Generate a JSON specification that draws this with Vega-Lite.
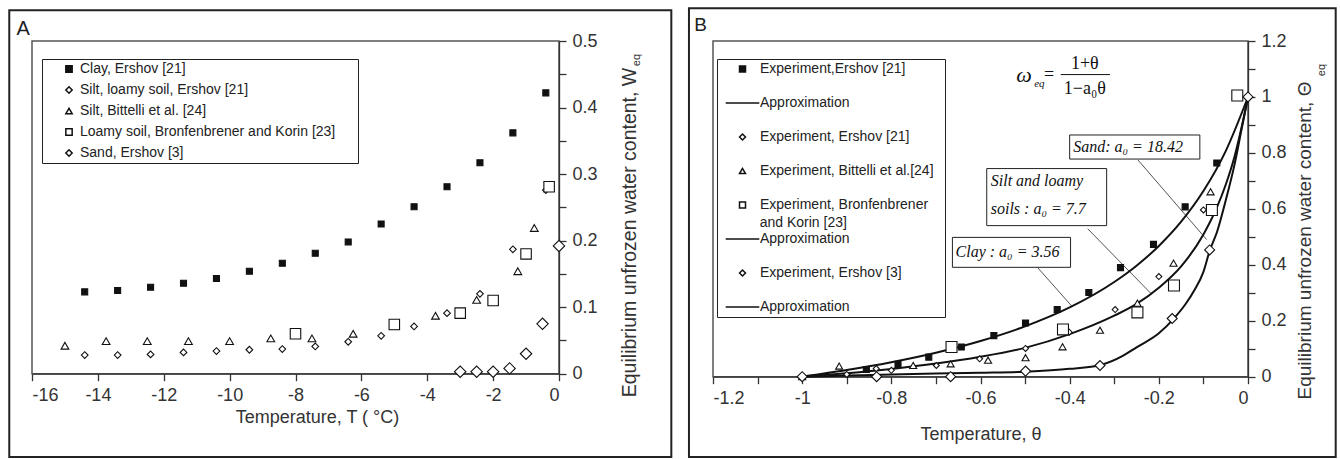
{
  "$schema": "https://vega.github.io/schema/vega-lite/v6.json",
  "padding": {"left": 7, "top": 6, "right": 0, "bottom": 0},
  "spacing": 13,
  "background": "white",
  "resolve": {"scale": {"shape": "independent", "fill": "independent", "size": "independent", "stroke": "independent"}, "legend": {"shape": "independent", "fill": "independent", "size": "independent", "stroke": "independent"}},
  "config": {
    "font": "Liberation Sans",
    "view": {"stroke": "#555", "strokeWidth": 1.5},
    "axis": {"labelFontSize": 18, "titleFontSize": 18, "labelColor": "#333", "titleColor": "#333", "titleFontWeight": "normal", "domainColor": "#333", "tickColor": "#333", "grid": false, "tickSize": 7, "labelPadding": 6, "domainWidth": 1.3, "tickWidth": 1.3, "labelFont": "Liberation Sans", "titleFont": "Liberation Sans"},
    "legend": {"labelFont": "Liberation Sans", "labelFontSize": 14, "labelColor": "#222", "symbolStrokeColor": "#111", "symbolStrokeWidth": 1.5, "strokeColor": "#222", "labelLimit": 400}
  },
  "datasets": {
    "aFrame": [{"x": -16.69, "x2": 3.41, "y": -0.1252, "y2": 0.5461}],
    "aLabel": [{"x": -16.27, "y": 0.509, "text": "A"}],
    "aSub": [{"x": 2.38, "y": 0.4714, "text": "eq"}],
    "aPts": [
      {"k": "Clay, Ershov [21]", "x": -14.4, "y": 0.123},
      {"k": "Clay, Ershov [21]", "x": -13.4, "y": 0.125},
      {"k": "Clay, Ershov [21]", "x": -12.4, "y": 0.130},
      {"k": "Clay, Ershov [21]", "x": -11.4, "y": 0.136},
      {"k": "Clay, Ershov [21]", "x": -10.4, "y": 0.143},
      {"k": "Clay, Ershov [21]", "x": -9.4, "y": 0.154},
      {"k": "Clay, Ershov [21]", "x": -8.4, "y": 0.166},
      {"k": "Clay, Ershov [21]", "x": -7.4, "y": 0.181},
      {"k": "Clay, Ershov [21]", "x": -6.4, "y": 0.198},
      {"k": "Clay, Ershov [21]", "x": -5.4, "y": 0.225},
      {"k": "Clay, Ershov [21]", "x": -4.4, "y": 0.251},
      {"k": "Clay, Ershov [21]", "x": -3.4, "y": 0.281},
      {"k": "Clay, Ershov [21]", "x": -2.4, "y": 0.317},
      {"k": "Clay, Ershov [21]", "x": -1.4, "y": 0.362},
      {"k": "Clay, Ershov [21]", "x": -0.4, "y": 0.422},
      {"k": "Silt, loamy soil, Ershov [21]", "x": -14.4, "y": 0.028},
      {"k": "Silt, loamy soil, Ershov [21]", "x": -13.4, "y": 0.028},
      {"k": "Silt, loamy soil, Ershov [21]", "x": -12.4, "y": 0.029},
      {"k": "Silt, loamy soil, Ershov [21]", "x": -11.4, "y": 0.032},
      {"k": "Silt, loamy soil, Ershov [21]", "x": -10.4, "y": 0.034},
      {"k": "Silt, loamy soil, Ershov [21]", "x": -9.4, "y": 0.036},
      {"k": "Silt, loamy soil, Ershov [21]", "x": -8.4, "y": 0.037},
      {"k": "Silt, loamy soil, Ershov [21]", "x": -7.4, "y": 0.041},
      {"k": "Silt, loamy soil, Ershov [21]", "x": -6.4, "y": 0.048},
      {"k": "Silt, loamy soil, Ershov [21]", "x": -5.4, "y": 0.057},
      {"k": "Silt, loamy soil, Ershov [21]", "x": -4.4, "y": 0.071},
      {"k": "Silt, loamy soil, Ershov [21]", "x": -3.4, "y": 0.091},
      {"k": "Silt, loamy soil, Ershov [21]", "x": -2.4, "y": 0.120},
      {"k": "Silt, loamy soil, Ershov [21]", "x": -1.4, "y": 0.187},
      {"k": "Silt, loamy soil, Ershov [21]", "x": -0.4, "y": 0.276},
      {"k": "Silt, Bittelli et al. [24]", "x": -15.0, "y": 0.042},
      {"k": "Silt, Bittelli et al. [24]", "x": -13.75, "y": 0.049},
      {"k": "Silt, Bittelli et al. [24]", "x": -12.5, "y": 0.049},
      {"k": "Silt, Bittelli et al. [24]", "x": -11.25, "y": 0.049},
      {"k": "Silt, Bittelli et al. [24]", "x": -10.0, "y": 0.049},
      {"k": "Silt, Bittelli et al. [24]", "x": -8.75, "y": 0.053},
      {"k": "Silt, Bittelli et al. [24]", "x": -7.5, "y": 0.053},
      {"k": "Silt, Bittelli et al. [24]", "x": -6.25, "y": 0.060},
      {"k": "Silt, Bittelli et al. [24]", "x": -5.0, "y": 0.072},
      {"k": "Silt, Bittelli et al. [24]", "x": -3.75, "y": 0.087},
      {"k": "Silt, Bittelli et al. [24]", "x": -2.5, "y": 0.111},
      {"k": "Silt, Bittelli et al. [24]", "x": -1.25, "y": 0.154},
      {"k": "Silt, Bittelli et al. [24]", "x": -0.75, "y": 0.219},
      {"k": "Loamy soil, Bronfenbrener and Korin [23]", "x": -8.0, "y": 0.060},
      {"k": "Loamy soil, Bronfenbrener and Korin [23]", "x": -5.0, "y": 0.074},
      {"k": "Loamy soil, Bronfenbrener and Korin [23]", "x": -3.0, "y": 0.091},
      {"k": "Loamy soil, Bronfenbrener and Korin [23]", "x": -2.0, "y": 0.110},
      {"k": "Loamy soil, Bronfenbrener and Korin [23]", "x": -1.0, "y": 0.180},
      {"k": "Loamy soil, Bronfenbrener and Korin [23]", "x": -0.3, "y": 0.281},
      {"k": "Sand, Ershov [3]", "x": -3.0, "y": 0.003},
      {"k": "Sand, Ershov [3]", "x": -2.5, "y": 0.003},
      {"k": "Sand, Ershov [3]", "x": -2.0, "y": 0.003},
      {"k": "Sand, Ershov [3]", "x": -1.5, "y": 0.008},
      {"k": "Sand, Ershov [3]", "x": -1.0, "y": 0.030},
      {"k": "Sand, Ershov [3]", "x": -0.5, "y": 0.075},
      {"k": "Sand, Ershov [3]", "x": 0.0, "y": 0.192}
    ],
    "bFrame": [{"x": -1.2539, "x2": 0.1967, "y": -0.287, "y2": 1.3169}],
    "bLabel": [{"x": -1.2277, "y": 1.2357, "text": "B"}],
    "bSub": [{"x": 0.165, "y": 1.096, "text": "eq"}],
    "bLegendLine2": [{"x": -1.0953, "y": 0.549, "text": "and  Korin [23]"}],
    "bPts": [
      {"k": "1", "x": -0.856, "y": 0.026},
      {"k": "1", "x": -0.785, "y": 0.044},
      {"k": "1", "x": -0.716, "y": 0.070},
      {"k": "1", "x": -0.643, "y": 0.106},
      {"k": "1", "x": -0.570, "y": 0.147},
      {"k": "1", "x": -0.499, "y": 0.192},
      {"k": "1", "x": -0.428, "y": 0.240},
      {"k": "1", "x": -0.357, "y": 0.301},
      {"k": "1", "x": -0.286, "y": 0.390},
      {"k": "1", "x": -0.212, "y": 0.473},
      {"k": "1", "x": -0.141, "y": 0.607},
      {"k": "1", "x": -0.070, "y": 0.764},
      {"k": "3", "x": -1.0, "y": 0.0},
      {"k": "3", "x": -0.90, "y": 0.008},
      {"k": "3", "x": -0.834, "y": 0.029},
      {"k": "3", "x": -0.80, "y": 0.023},
      {"k": "3", "x": -0.699, "y": 0.040},
      {"k": "3", "x": -0.602, "y": 0.064},
      {"k": "3", "x": -0.499, "y": 0.101},
      {"k": "3", "x": -0.401, "y": 0.159},
      {"k": "3", "x": -0.298, "y": 0.240},
      {"k": "3", "x": -0.200, "y": 0.358},
      {"k": "3", "x": -0.100, "y": 0.596},
      {"k": "3", "x": 0.0, "y": 1.0},
      {"k": "4", "x": -1.0, "y": 0.0},
      {"k": "4", "x": -0.917, "y": 0.038},
      {"k": "4", "x": -0.751, "y": 0.040},
      {"k": "4", "x": -0.667, "y": 0.046},
      {"k": "4", "x": -0.583, "y": 0.059},
      {"k": "4", "x": -0.499, "y": 0.068},
      {"k": "4", "x": -0.416, "y": 0.107},
      {"k": "4", "x": -0.332, "y": 0.166},
      {"k": "4", "x": -0.248, "y": 0.263},
      {"k": "4", "x": -0.167, "y": 0.406},
      {"k": "4", "x": -0.084, "y": 0.661},
      {"k": "5", "x": -0.665, "y": 0.106},
      {"k": "5", "x": -0.415, "y": 0.169},
      {"k": "5", "x": -0.248, "y": 0.230},
      {"k": "5", "x": -0.166, "y": 0.326},
      {"k": "5", "x": -0.081, "y": 0.596},
      {"k": "5", "x": -0.024, "y": 1.005},
      {"k": "7", "x": -1.0, "y": 0.0},
      {"k": "7", "x": -0.833, "y": 0.0},
      {"k": "7", "x": -0.667, "y": 0.0},
      {"k": "7", "x": -0.499, "y": 0.020},
      {"k": "7", "x": -0.332, "y": 0.040},
      {"k": "7", "x": -0.170, "y": 0.208},
      {"k": "7", "x": -0.086, "y": 0.453},
      {"k": "7", "x": 0.0, "y": 1.0}
    ],
    "bCurves": [
      {"c": "clay", "x": -1.0, "y": 0.0},
      {"c": "clay", "x": -0.9, "y": 0.0238},
      {"c": "clay", "x": -0.8, "y": 0.052},
      {"c": "clay", "x": -0.7, "y": 0.0859},
      {"c": "clay", "x": -0.6, "y": 0.1276},
      {"c": "clay", "x": -0.5, "y": 0.1799},
      {"c": "clay", "x": -0.4, "y": 0.2475},
      {"c": "clay", "x": -0.3, "y": 0.3385},
      {"c": "clay", "x": -0.25, "y": 0.3968},
      {"c": "clay", "x": -0.2, "y": 0.4673},
      {"c": "clay", "x": -0.15, "y": 0.5541},
      {"c": "clay", "x": -0.1, "y": 0.6637},
      {"c": "clay", "x": -0.05, "y": 0.8065},
      {"c": "clay", "x": 0.0, "y": 1.0},
      {"c": "silt", "x": -1.0, "y": 0.0},
      {"c": "silt", "x": -0.9, "y": 0.0126},
      {"c": "silt", "x": -0.8, "y": 0.0279},
      {"c": "silt", "x": -0.7, "y": 0.0469},
      {"c": "silt", "x": -0.6, "y": 0.0712},
      {"c": "silt", "x": -0.5, "y": 0.1031},
      {"c": "silt", "x": -0.4, "y": 0.152},
      {"c": "silt", "x": -0.3, "y": 0.218},
      {"c": "silt", "x": -0.25, "y": 0.26},
      {"c": "silt", "x": -0.2, "y": 0.318},
      {"c": "silt", "x": -0.15, "y": 0.3944},
      {"c": "silt", "x": -0.1, "y": 0.5085},
      {"c": "silt", "x": -0.07, "y": 0.604},
      {"c": "silt", "x": -0.05, "y": 0.686},
      {"c": "silt", "x": -0.03, "y": 0.788},
      {"c": "silt", "x": -0.015, "y": 0.887},
      {"c": "silt", "x": 0.0, "y": 1.0},
      {"c": "sand", "x": -1.0, "y": 0.0},
      {"c": "sand", "x": -0.9, "y": 0.004},
      {"c": "sand", "x": -0.8, "y": 0.008},
      {"c": "sand", "x": -0.7, "y": 0.011},
      {"c": "sand", "x": -0.6, "y": 0.014},
      {"c": "sand", "x": -0.5, "y": 0.018},
      {"c": "sand", "x": -0.4, "y": 0.028},
      {"c": "sand", "x": -0.33, "y": 0.042},
      {"c": "sand", "x": -0.28, "y": 0.075},
      {"c": "sand", "x": -0.25, "y": 0.105},
      {"c": "sand", "x": -0.2, "y": 0.155},
      {"c": "sand", "x": -0.167, "y": 0.207},
      {"c": "sand", "x": -0.14, "y": 0.26},
      {"c": "sand", "x": -0.12, "y": 0.31},
      {"c": "sand", "x": -0.1, "y": 0.375},
      {"c": "sand", "x": -0.086, "y": 0.45},
      {"c": "sand", "x": -0.069, "y": 0.52},
      {"c": "sand", "x": -0.05, "y": 0.63},
      {"c": "sand", "x": -0.03, "y": 0.76},
      {"c": "sand", "x": -0.015, "y": 0.88},
      {"c": "sand", "x": 0.0, "y": 1.0}
    ],
    "bBoxes": [
      {"x": -0.400, "x2": -0.108, "y": 0.778, "y2": 0.864},
      {"x": -0.586, "x2": -0.317, "y": 0.540, "y2": 0.744},
      {"x": -0.663, "x2": -0.398, "y": 0.391, "y2": 0.498}
    ],
    "bBoxText": [
      {"x": -0.392, "y": 0.821, "text": "Sand: a₀ = 18.42"},
      {"x": -0.577, "y": 0.699, "text": "Silt and loamy"},
      {"x": -0.577, "y": 0.599, "text": "soils : a₀ = 7.7"},
      {"x": -0.656, "y": 0.445, "text": "Clay : a₀ = 3.56"}
    ],
    "bLeaders": [
      {"x": -0.247, "y": 0.775, "x2": -0.0926, "y2": 0.490},
      {"x": -0.3596, "y": 0.529, "x2": -0.218, "y2": 0.298},
      {"x": -0.4724, "y": 0.391, "x2": -0.394, "y2": 0.250}
    ],
    "bFracLine": [{"x": -0.420, "x2": -0.3096, "y": 1.080}],
    "bOmega": [{"x": -0.5025, "y": 1.078, "text": "ω"}],
    "bFormulaSub": [{"x": -0.468, "y": 1.046, "text": "eq"}],
    "bFormula": [
      {"x": -0.446, "y": 1.078, "text": "="},
      {"x": -0.366, "y": 1.117, "text": "1+θ"},
      {"x": -0.366, "y": 1.028, "text": "1−a₀θ"}
    ]
  },
  "hconcat": [
    {
      "width": 527,
      "height": 332.7,
      "encoding": {
        "x": {"field": "x", "type": "quantitative", "scale": {"domain": [-16, 0], "nice": false, "zero": false},
          "axis": {"values": [-16, -14, -12, -10, -8, -6, -4, -2, 0], "format": "d", "labelExpr": "replace(datum.label, '−', '-')", "title": "Temperature, T ( °C)", "titlePadding": 4, "titleX": 285}},
        "y": {"field": "y", "type": "quantitative", "scale": {"domain": [0, 0.5], "nice": false, "zero": false},
          "axis": {"orient": "right", "values": [0, 0.05, 0.1, 0.15, 0.2, 0.25, 0.3, 0.35, 0.4, 0.45, 0.5], "format": ".1~f", "labelExpr": "abs(datum.value*10 - round(datum.value*10)) < 0.01 ? datum.label : ''", "title": "Equilibrium unfrozen water content,  W", "titleFontSize": 19.5, "titleAngle": 270, "titleY": 191, "titlePadding": 42}}
      },
      "layer": [
        {"data": {"name": "aFrame"}, "mark": {"type": "rect", "filled": false, "stroke": "#222", "strokeWidth": 2}, "encoding": {"x2": {"field": "x2"}, "y2": {"field": "y2"}}},
        {"data": {"name": "aPts"}, "mark": {"type": "point", "filled": false, "strokeWidth": 1.1, "opacity": 1},
          "encoding": {
            "shape": {"field": "k", "type": "nominal", "scale": {"domain": ["Clay, Ershov [21]", "Silt, loamy soil, Ershov [21]", "Silt, Bittelli et al. [24]", "Loamy soil, Bronfenbrener and Korin [23]", "Sand, Ershov [3]"], "range": ["square", "diamond", "triangle-up", "square", "diamond"]},
              "legend": {"orient": "none", "legendX": 10, "legendY": 18, "title": "\u00a0", "titleOrient": "right", "titleFontSize": 1, "titlePadding": 20, "padding": 3, "symbolSize": 40, "symbolOffset": 17, "labelOffset": 4, "rowPadding": 7, "labelFontSize": 14}},
            "fill": {"field": "k", "type": "nominal", "scale": {"domain": ["Clay, Ershov [21]", "Silt, loamy soil, Ershov [21]", "Silt, Bittelli et al. [24]", "Loamy soil, Bronfenbrener and Korin [23]", "Sand, Ershov [3]"], "range": ["#111", "white", "white", "white", "white"]},
              "legend": {"orient": "none", "legendX": 10, "legendY": 18, "title": "\u00a0", "titleOrient": "right", "titleFontSize": 1, "titlePadding": 20, "padding": 3, "symbolSize": 40, "symbolOffset": 17, "labelOffset": 4, "rowPadding": 7, "labelFontSize": 14}},
            "stroke": {"field": "k", "type": "nominal", "scale": {"domain": ["Clay, Ershov [21]", "Silt, loamy soil, Ershov [21]", "Silt, Bittelli et al. [24]", "Loamy soil, Bronfenbrener and Korin [23]", "Sand, Ershov [3]"], "range": ["#111", "#111", "#111", "#111", "#111"]},
              "legend": {"orient": "none", "legendX": 10, "legendY": 18, "title": "\u00a0", "titleOrient": "right", "titleFontSize": 1, "titlePadding": 20, "padding": 3, "symbolSize": 40, "symbolOffset": 17, "labelOffset": 4, "rowPadding": 7, "labelFontSize": 14}},
            "size": {"field": "k", "type": "nominal", "scale": {"type": "ordinal", "domain": ["Sand, Ershov [3]", "Loamy soil, Bronfenbrener and Korin [23]", "Silt, Bittelli et al. [24]", "Silt, loamy soil, Ershov [21]", "Clay, Ershov [21]"], "range": [130, 110, 60, 45, 36]}, "legend": null}
          }},
        {"data": {"name": "aLabel"}, "mark": {"type": "text", "fontSize": 20, "align": "center", "baseline": "alphabetic", "color": "#222"}, "encoding": {"text": {"field": "text"}}},
        {"data": {"name": "aSub"}, "mark": {"type": "text", "fontSize": 11, "angle": 270, "align": "center", "baseline": "middle", "color": "#333"}, "encoding": {"text": {"field": "text"}}}
      ]
    },
    {
      "width": 535,
      "height": 335.7,
      "encoding": {
        "x": {"field": "x", "type": "quantitative", "scale": {"domain": [-1.2, 0], "nice": false, "zero": false},
          "axis": {"values": [-1.2, -1.1, -1.0, -0.9, -0.8, -0.7, -0.6, -0.5, -0.4, -0.3, -0.2, -0.1, 0], "format": ".1~f", "labelExpr": "round(datum.value*10) % 2 == 0 ? replace(datum.label, '−', '-') : ''", "title": "Temperature, θ", "titlePadding": 18}},
        "y": {"field": "y", "type": "quantitative", "scale": {"domain": [0, 1.2], "nice": false, "zero": false},
          "axis": {"orient": "right", "values": [0, 0.1, 0.2, 0.3, 0.4, 0.5, 0.6, 0.7, 0.8, 0.9, 1.0, 1.1, 1.2], "format": ".1~f", "labelExpr": "round(datum.value*10) % 2 == 0 ? datum.label : ''", "title": "Equilibrium unfrozen water content,  Θ", "titleFontSize": 19, "titleAngle": 270, "titleY": 199, "titlePadding": 28}}
      },
      "layer": [
        {"data": {"name": "bFrame"}, "mark": {"type": "rect", "filled": false, "stroke": "#222", "strokeWidth": 2}, "encoding": {"x2": {"field": "x2"}, "y2": {"field": "y2"}}},
        {"data": {"name": "bLeaders"}, "mark": {"type": "rule", "stroke": "#555", "strokeWidth": 1}, "encoding": {"x2": {"field": "x2"}, "y2": {"field": "y2"}}},
        {"data": {"name": "bCurves"}, "mark": {"type": "line", "stroke": "#111", "strokeWidth": 2, "interpolate": "monotone"}, "encoding": {"detail": {"field": "c"}}},
        {"data": {"name": "bBoxes"}, "mark": {"type": "rect", "fill": "white", "stroke": "#222", "strokeWidth": 1}, "encoding": {"x2": {"field": "x2"}, "y2": {"field": "y2"}}},
        {"data": {"name": "bBoxText"}, "mark": {"type": "text", "font": "Liberation Serif", "fontStyle": "italic", "fontSize": 16, "align": "left", "baseline": "middle", "color": "#111"}, "encoding": {"text": {"field": "text"}}},
        {"data": {"name": "bFracLine"}, "mark": {"type": "rule", "stroke": "#111", "strokeWidth": 1}, "encoding": {"x2": {"field": "x2"}}},
        {"data": {"name": "bOmega"}, "mark": {"type": "text", "font": "Liberation Serif", "fontStyle": "italic", "fontSize": 22, "align": "center", "baseline": "middle", "color": "#111"}, "encoding": {"text": {"field": "text"}}},
        {"data": {"name": "bFormulaSub"}, "mark": {"type": "text", "font": "Liberation Serif", "fontStyle": "italic", "fontSize": 11, "align": "center", "baseline": "middle", "color": "#111"}, "encoding": {"text": {"field": "text"}}},
        {"data": {"name": "bFormula"}, "mark": {"type": "text", "font": "Liberation Serif", "fontSize": 18, "align": "center", "baseline": "middle", "color": "#111"}, "encoding": {"text": {"field": "text"}}},
        {"data": {"name": "bPts"}, "mark": {"type": "point", "filled": false, "strokeWidth": 1.1, "opacity": 1},
          "encoding": {
            "shape": {"field": "k", "type": "nominal", "scale": {"domain": ["1", "2", "3", "4", "5", "6", "7", "8"], "range": ["square", "M-5.6,0H5.6", "diamond", "triangle-up", "square", "M-5.6,0H5.6", "diamond", "M-5.6,0H5.6"]},
              "legend": {"orient": "none", "legendX": 4, "legendY": 18, "title": "\u00a0", "titleOrient": "right", "titleFontSize": 1, "titlePadding": 5, "padding": 3, "symbolSize": 36, "symbolOffset": 15.5, "labelOffset": 10.5, "rowPadding": 20, "labelFontSize": 14, "labelExpr": "['Experiment,Ershov [21]', 'Approximation', 'Experiment, Ershov [21]', 'Experiment, Bittelli  et al.[24]', 'Experiment, Bronfenbrener', 'Approximation', 'Experiment, Ershov [3]', 'Approximation'][toNumber(datum.value) - 1]"}},
            "fill": {"field": "k", "type": "nominal", "scale": {"domain": ["1", "2", "3", "4", "5", "6", "7", "8"], "range": ["#111", "white", "white", "white", "white", "white", "white", "white"]},
              "legend": {"orient": "none", "legendX": 4, "legendY": 18, "title": "\u00a0", "titleOrient": "right", "titleFontSize": 1, "titlePadding": 5, "padding": 3, "symbolSize": 36, "symbolOffset": 15.5, "labelOffset": 10.5, "rowPadding": 20, "labelFontSize": 14, "labelExpr": "['Experiment,Ershov [21]', 'Approximation', 'Experiment, Ershov [21]', 'Experiment, Bittelli  et al.[24]', 'Experiment, Bronfenbrener', 'Approximation', 'Experiment, Ershov [3]', 'Approximation'][toNumber(datum.value) - 1]"}},
            "stroke": {"field": "k", "type": "nominal", "scale": {"domain": ["1", "2", "3", "4", "5", "6", "7", "8"], "range": ["#111", "#111", "#111", "#111", "#111", "#111", "#111", "#111"]},
              "legend": {"orient": "none", "legendX": 4, "legendY": 18, "title": "\u00a0", "titleOrient": "right", "titleFontSize": 1, "titlePadding": 5, "padding": 3, "symbolSize": 36, "symbolOffset": 15.5, "labelOffset": 10.5, "rowPadding": 20, "labelFontSize": 14, "labelExpr": "['Experiment,Ershov [21]', 'Approximation', 'Experiment, Ershov [21]', 'Experiment, Bittelli  et al.[24]', 'Experiment, Bronfenbrener', 'Approximation', 'Experiment, Ershov [3]', 'Approximation'][toNumber(datum.value) - 1]"}},
            "size": {"field": "k", "type": "nominal", "scale": {"type": "ordinal", "domain": ["8", "7", "6", "5", "4", "3", "2", "1"], "range": [36, 100, 36, 120, 50, 36, 36, 36]}, "legend": null}
          }},
        {"data": {"name": "bLegendLine2"}, "mark": {"type": "text", "fontSize": 14, "align": "left", "baseline": "middle", "color": "#222"}, "encoding": {"text": {"field": "text"}}},
        {"data": {"name": "bLabel"}, "mark": {"type": "text", "fontSize": 19, "align": "center", "baseline": "alphabetic", "color": "#222"}, "encoding": {"text": {"field": "text"}}},
        {"data": {"name": "bSub"}, "mark": {"type": "text", "fontSize": 11, "angle": 270, "align": "center", "baseline": "middle", "color": "#333"}, "encoding": {"text": {"field": "text"}}}
      ]
    }
  ]
}
